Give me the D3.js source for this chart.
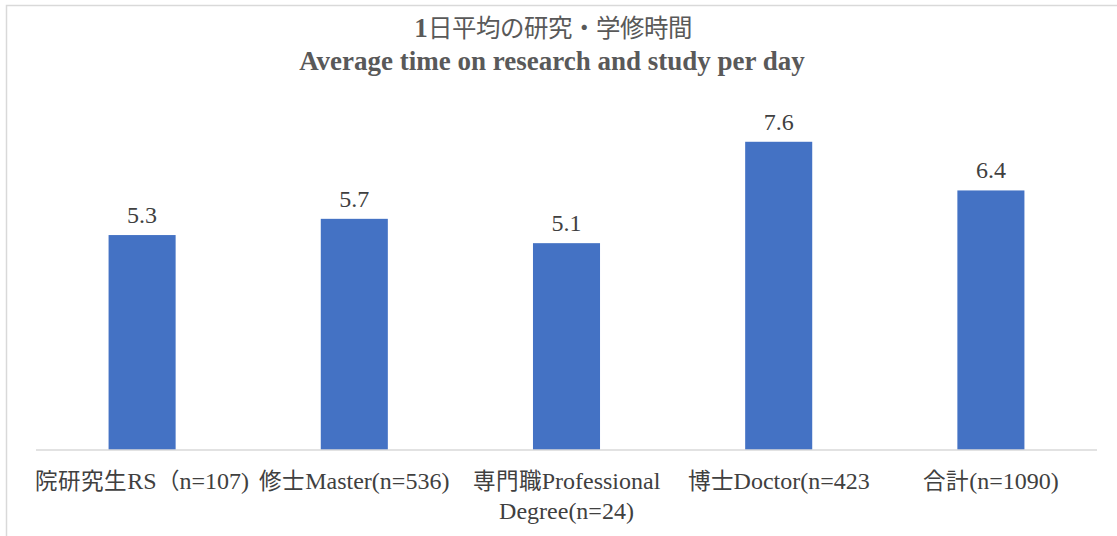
<!DOCTYPE html>
<html>
<head>
  <meta charset="utf-8">
  <style>
    @font-face {
      font-family: "CJKAdj";
      src: local("Noto Sans CJK JP"), local("NotoSansCJKjp-Regular"), local("Noto Sans CJK JP Regular");
      size-adjust: 94%;
    }
    body { margin: 0; background: #fff; }
    text { font-family: "Liberation Serif", "Times New Roman", "CJKAdj", "Noto Sans CJK JP", serif; }
    .title { font-size: 27px; font-weight: bold; fill: #595959; }
    .value { font-size: 24px; fill: #404040; }
    .cat { font-size: 24px; fill: #404040; }
  </style>
</head>
<body>
  <script src="https://d3js.org/d3.v7.min.js"></script>
  <script>
    var categories = ["院研究生RS（n=107)", "修士Master(n=536)", "専門職Professional Degree(n=24)", "博士Doctor(n=423", "合計(n=1090)"];
    var categoryLines = [["院研究生RS（n=107)"], ["修士Master(n=536)"], ["専門職Professional", "Degree(n=24)"], ["博士Doctor(n=423"], ["合計(n=1090)"]];
    var values = [5.3, 5.7, 5.1, 7.6, 6.4];
    var titleLines = ["1日平均の研究・学修時間", "Average time on research and study per day"];

    var width = 1117, height = 536;

    var svg = d3.select("body").append("svg")
        .attr("width", width)
        .attr("height", height);

    // chart area border (runs off the right and bottom edges)
    svg.append("rect")
        .attr("x", 6.5).attr("y", 5.5)
        .attr("width", width + 10).attr("height", height + 10)
        .attr("fill", "none")
        .attr("stroke", "#d9d9d9")
        .attr("stroke-width", 1.5);

    var x = d3.scaleBand()
        .domain(categories)
        .range([36, 1097])
        .paddingInner(0.684)
        .paddingOuter(0.342);

    var y = d3.scaleLinear()
        .domain([0, 9])
        .range([450, 85]);

    // title: first line has a bold "1" then the Japanese text
    var t1 = svg.append("text")
        .attr("class", "title")
        .attr("x", 553)
        .attr("y", 37)
        .attr("text-anchor", "middle");
    t1.append("tspan").text(titleLines[0].slice(0, 1));
    t1.append("tspan").style("font-weight", 500).style("font-size", "26px").text(titleLines[0].slice(1));

    svg.append("text")
        .attr("class", "title")
        .attr("x", 552)
        .attr("y", 70)
        .attr("text-anchor", "middle")
        .text(titleLines[1]);

    svg.selectAll(".bar")
        .data(values)
      .enter().append("rect")
        .attr("class", "bar")
        .attr("x", (d, i) => x(categories[i]))
        .attr("y", d => y(d))
        .attr("width", x.bandwidth())
        .attr("height", d => y(0) - y(d))
        .attr("fill", "#4472c4");

    svg.selectAll(".value")
        .data(values)
      .enter().append("text")
        .attr("class", "value")
        .attr("x", (d, i) => x(categories[i]) + x.bandwidth() / 2)
        .attr("y", d => y(d) - 12)
        .attr("text-anchor", "middle")
        .text(d => d.toFixed(1));

    svg.append("line")
        .attr("x1", x.range()[0]).attr("x2", x.range()[1])
        .attr("y1", y(0)).attr("y2", y(0))
        .attr("stroke", "#d9d9d9")
        .attr("stroke-width", 1.5);

    var cats = svg.selectAll(".cat")
        .data(categoryLines)
      .enter().append("text")
        .attr("class", "cat")
        .attr("text-anchor", "middle")
        .attr("transform", (d, i) => "translate(" + (x(categories[i]) + x.bandwidth() / 2) + ",489)");

    cats.selectAll("tspan")
        .data(d => d)
      .enter().append("tspan")
        .attr("x", 0)
        .attr("y", (d, i) => i * 30)
        .text(d => d);
  </script>
</body>
</html>
